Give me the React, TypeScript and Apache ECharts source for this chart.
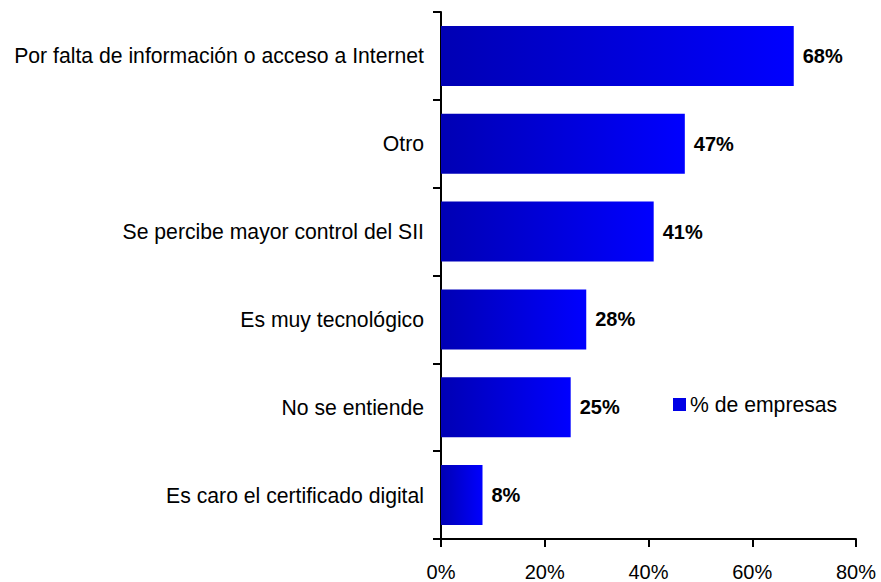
import React, { useEffect, useRef } from "react";
import * as echarts from "echarts";

const categories = [
  "Por falta de información o acceso a Internet",
  "Otro",
  "Se percibe mayor control del SII",
  "Es muy tecnológico",
  "No se entiende",
  "Es caro el certificado digital",
];
const values = [68, 47, 41, 28, 25, 8];
const seriesName = "% de empresas";
const xTicks = { min: 0, max: 80, interval: 20 };

const FONT = "'Liberation Sans', Arial, sans-serif";

export default function App() {
  const ref = useRef<HTMLDivElement>(null);
  useEffect(() => {
    document.body.style.margin = "0";
    const chart = echarts.init(ref.current!, null, { renderer: "svg" });
    chart.setOption({
      animation: false,
      backgroundColor: "#ffffff",
      textStyle: { fontFamily: FONT, color: "#000" },
      grid: { left: 441, top: 12, width: 415, height: 528, containLabel: false },
      legend: {
        left: 673,
        top: 394,
        padding: 0,
        itemWidth: 13,
        itemHeight: 13,
        itemGap: 10,
        icon: "rect",
        data: [{ name: seriesName, itemStyle: { color: "#0000E6" } }],
        textStyle: { fontSize: 21.2, fontFamily: FONT, color: "#000", padding: [0, 0, 0, -1] },
      },
      xAxis: {
        type: "value",
        min: xTicks.min,
        max: xTicks.max,
        interval: xTicks.interval,
        splitLine: { show: false },
        axisLine: { show: true, lineStyle: { color: "#000", width: 2 } },
        axisTick: { show: true, length: 8, lineStyle: { color: "#000", width: 2 } },
        axisLabel: {
          formatter: "{value}%",
          fontSize: 20,
          fontFamily: FONT,
          color: "#000",
          margin: 23,
        },
      },
      yAxis: {
        type: "category",
        inverse: true,
        data: categories,
        axisLine: { show: true, lineStyle: { color: "#000", width: 2 } },
        axisTick: { show: true, length: 8, lineStyle: { color: "#000", width: 2 } },
        axisLabel: { fontSize: 21.2, fontFamily: FONT, color: "#000", margin: 17 },
      },
      series: [
        {
          name: seriesName,
          type: "bar",
          data: values,
          barWidth: 60,
          itemStyle: {
            color: new echarts.graphic.LinearGradient(0, 0, 1, 0, [
              { offset: 0, color: "#0000B4" },
              { offset: 1, color: "#0000FF" },
            ]),
          },
          label: {
            show: true,
            position: "right",
            distance: 9,
            formatter: "{c}%",
            fontSize: 20,
            fontWeight: "bold",
            fontFamily: FONT,
            color: "#000",
          },
        },
      ],
    });
    return () => chart.dispose();
  }, []);
  return <div ref={ref} style={{ width: 881, height: 582 }} />;
}
